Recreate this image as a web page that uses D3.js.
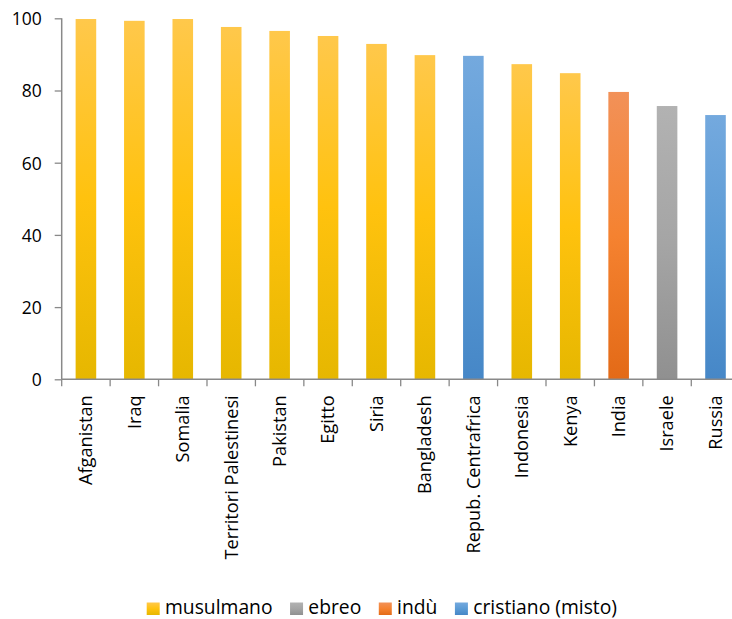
<!DOCTYPE html>
<html>
<head>
<meta charset="utf-8">
<script src="https://cdn.jsdelivr.net/npm/d3@7"></script>
<style>
  html, body { margin: 0; padding: 0; background: #fff; }
  svg { display: block; }
  text { font-family: "Open Sans", "Noto Sans", sans-serif; fill: #000; }
</style>
</head>
<body>
<script>
// Countries and the share of the population belonging to the majority religion (%)
const countries = ["Afganistan", "Iraq", "Somalia", "Territori Palestinesi", "Pakistan", "Egitto",
  "Siria", "Bangladesh", "Repub. Centrafrica", "Indonesia", "Kenya", "India", "Israele", "Russia"];
const values = [99.8, 99.3, 99.8, 97.6, 96.5, 95.1, 92.9, 89.8, 89.6, 87.3, 84.8, 79.6, 75.7, 73.2];
const religionOf = ["musulmano", "musulmano", "musulmano", "musulmano", "musulmano", "musulmano",
  "musulmano", "musulmano", "cristiano (misto)", "musulmano", "musulmano", "indù", "ebreo", "cristiano (misto)"];
const religions = ["musulmano", "ebreo", "indù", "cristiano (misto)"];
const yTicks = [0, 20, 40, 60, 80, 100];

// gradient stops (top, middle, bottom) for each religion
const palette = {
  "musulmano": ["#FFC84B", "#FFC20E", "#E6B700"],
  "ebreo": ["#B2B2B2", "#A5A5A5", "#909090"],
  "indù": ["#F29158", "#F58230", "#E36A17"],
  "cristiano (misto)": ["#74A9DE", "#5B9BD5", "#4687C7"]
};

const W = 732, H = 619;
const svg = d3.select("body").append("svg").attr("width", W).attr("height", H);

const defs = svg.append("defs");
religions.forEach((r, i) => {
  const g = defs.append("linearGradient").attr("id", "grad" + i)
    .attr("x1", 0).attr("y1", 0).attr("x2", 0).attr("y2", 1);
  g.append("stop").attr("offset", "0%").attr("stop-color", palette[r][0]);
  g.append("stop").attr("offset", "50%").attr("stop-color", palette[r][1]);
  g.append("stop").attr("offset", "100%").attr("stop-color", palette[r][2]);
});
const fillFor = r => "url(#grad" + religions.indexOf(r) + ")";

const x0 = 61.7, step = 48.43;
const x = d3.scaleBand().domain(countries)
  .range([x0, x0 + step * countries.length])
  .paddingInner(0.575).paddingOuter(0.2875);
const y = d3.scaleLinear().domain([0, 100]).range([379.3, 18.3]);

const axisColor = "#898989";

// bars
svg.append("g").selectAll("rect").data(countries).join("rect")
  .attr("x", d => x(d))
  .attr("width", x.bandwidth())
  .attr("y", (d, i) => y(values[i]))
  .attr("height", (d, i) => y(0) - y(values[i]))
  .attr("fill", (d, i) => fillFor(religionOf[i]));

// y axis
const yAxis = svg.append("g").attr("transform", `translate(${x0},0)`)
  .call(d3.axisLeft(y).tickValues(yTicks).tickSize(7).tickPadding(13).tickFormat(d3.format("d")));
yAxis.select(".domain").attr("stroke", axisColor).attr("stroke-width", 1.5)
  .attr("d", `M0,${y(100)}V${y(0)}`);
yAxis.selectAll(".tick line").attr("stroke", axisColor).attr("stroke-width", 1.3);
yAxis.selectAll(".tick text").style("font-size", "17.5px").attr("fill", "#000")
  .style("font-family", "'Open Sans', sans-serif").attr("dy", "0.36em");

// x axis: line along the baseline, ticks between categories
const xAxis = svg.append("g").attr("transform", `translate(0,${y(0)})`);
xAxis.append("line").attr("x1", x0).attr("x2", W).attr("stroke", axisColor).attr("stroke-width", 1.5);
const boundaries = d3.range(countries.length + 1).map(i => x0 + i * step);
xAxis.selectAll("line.tk").data(boundaries).join("line").attr("class", "tk")
  .attr("x1", d => d).attr("x2", d => d).attr("y1", 0).attr("y2", 7)
  .attr("stroke", axisColor).attr("stroke-width", 1.3);

// category labels, rotated
svg.append("g").selectAll("text").data(countries).join("text")
  .attr("transform", d => `translate(${x(d) + x.bandwidth() / 2},${y(0) + 16}) rotate(-90)`)
  .attr("text-anchor", "end")
  .attr("dy", "0.35em")
  .style("font-size", "18.2px")
  .text(d => d);

// legend
const legend = svg.append("g").attr("transform", "translate(0,614)");
let lx = 146.7;
religions.forEach((r, i) => {
  legend.append("rect").attr("x", lx).attr("y", -11.5).attr("width", 13).attr("height", 12.5)
    .attr("fill", fillFor(r));
  const t = legend.append("text").attr("x", lx + 18.3).attr("y", 0)
    .style("font-size", "19.3px").text(r);
  lx += 18.3 + t.node().getComputedTextLength() + 17.5;
});
</script>
</body>
</html>
